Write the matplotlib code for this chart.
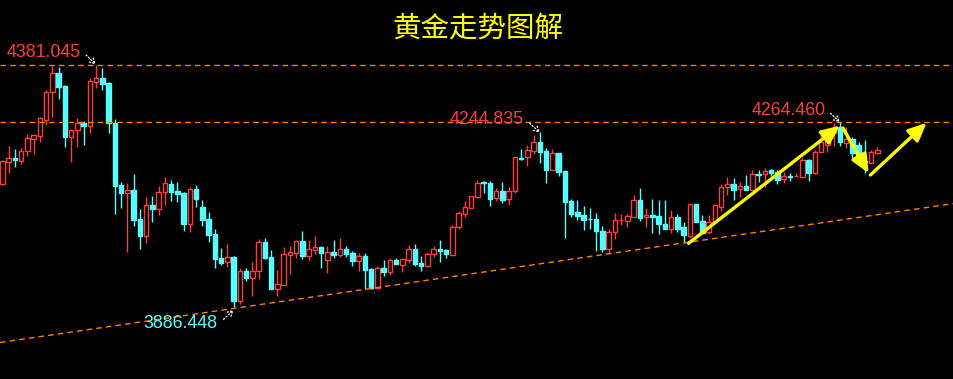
import matplotlib.pyplot as plt

plt.rcParams['font.family'] = ['Liberation Sans', 'Noto Sans CJK SC', 'DejaVu Sans']

# daily candles (price units)
opens = [4138.9, 4183.9, 4191.5, 4185.9, 4206.4, 4230.9, 4237.1, 4269.8, 4325.8, 4364.7,
         4338.7, 4235.0, 4248.7, 4263.7, 4257.5, 4347.5, 4354.5, 4344.9, 4262.4, 4136.2,
         4119.3, 4126.0, 4066.7, 4032.5, 4095.3, 4086.1, 4121.3, 4138.3, 4124.0, 4119.9,
         4057.1, 4128.1, 4091.2, 4066.7, 4036.0, 3986.9, 3979.4, 3989.0, 3899.6, 3960.3,
         3946.6, 3959.7, 4019.7, 3989.0, 3924.1, 3932.3, 3993.7, 3997.8, 4021.7, 3991.6,
         4003.9, 4010.0, 3983.5, 3999.2, 3993.7, 4005.3, 3997.2, 3980.2, 3991.0, 3964.4,
         3926.2, 3966.5, 3958.9, 3982.8, 3973.2, 3983.5, 4005.3, 3976.7, 3970.6, 3994.5,
         4005.3, 4003.3, 3993.7, 4049.3, 4077.5, 4089.8, 4111.1, 4141.8, 4140.3, 4109.0,
         4124.0, 4107.0, 4124.6, 4192.1, 4192.9, 4206.4, 4223.6, 4205.2, 4167.5, 4201.1,
         4164.9, 4103.5, 4080.4, 4074.9, 4067.3, 4066.7, 4042.2, 4005.3, 4039.5, 4064.0,
         4063.2, 4071.4, 4105.5, 4070.2, 4074.3, 4072.8, 4056.5, 4046.2, 4071.4, 4050.3,
         4032.5, 4096.8, 4062.6, 4039.5, 4059.9, 4091.9, 4131.5, 4138.3, 4127.4, 4134.2,
         4126.0, 4158.7, 4158.7, 4165.9, 4163.4, 4147.9, 4153.6, 4154.0, 4153.2, 4187.4,
         4160.2, 4204.4, 4218.1, 4242.0, 4255.5, 4222.8, 4229.7, 4218.1, 4184.3, 4181.9,
         4202.3]
highs = [4187.4, 4216.0, 4209.9, 4211.3, 4240.6, 4240.6, 4275.9, 4330.6, 4379.6, 4377.0,
         4341.4, 4250.2, 4272.7, 4267.1, 4354.5, 4381.045, 4375.6, 4346.9, 4270.6, 4141.8,
         4139.7, 4158.1, 4087.2, 4111.1, 4113.7, 4134.2, 4152.6, 4146.5, 4142.4, 4121.9,
         4131.5, 4136.2, 4105.5, 4081.0, 4046.2, 4007.4, 4015.6, 3991.6, 3965.9, 3966.5,
         3978.7, 4025.8, 4027.8, 4003.3, 3962.4, 4008.8, 4011.5, 4024.4, 4042.2, 4023.7,
         4031.9, 4011.5, 4010.9, 4023.7, 4027.8, 4011.5, 4001.2, 3996.5, 3997.2, 3966.5,
         3970.6, 3982.8, 3986.9, 3986.3, 3986.9, 4013.5, 4015.6, 3991.0, 3999.2, 4011.5,
         4023.7, 4005.3, 4054.4, 4083.1, 4103.1, 4113.7, 4146.5, 4145.0, 4145.0, 4130.1,
         4142.4, 4131.5, 4195.6, 4209.3, 4218.7, 4237.9, 4244.835, 4211.3, 4209.3, 4201.7,
         4166.9, 4107.6, 4105.5, 4093.3, 4089.2, 4078.4, 4052.4, 4046.2, 4078.4, 4077.5,
         4076.9, 4115.2, 4130.1, 4088.6, 4107.6, 4105.5, 4105.5, 4085.1, 4076.9, 4059.9,
         4097.4, 4097.4, 4074.9, 4074.9, 4095.3, 4138.3, 4153.2, 4149.9, 4143.0, 4156.7,
         4166.9, 4166.9, 4170.4, 4168.4, 4166.9, 4163.4, 4160.2, 4160.8, 4190.9, 4189.4,
         4207.8, 4242.0, 4252.2, 4262.4, 4264.460, 4255.5, 4233.8, 4224.8, 4228.3, 4207.8,
         4214.6]
lows = [4136.2, 4161.4, 4173.7, 4179.8, 4196.2, 4199.6, 4224.8, 4258.4, 4275.9, 4311.5,
        4214.6, 4183.9, 4214.6, 4218.1, 4243.2, 4335.3, 4330.6, 4243.2, 4076.9, 4089.8,
        3999.8, 4053.0, 4005.3, 4018.2, 4061.2, 4075.5, 4095.9, 4104.1, 4101.5, 4042.2,
        4040.7, 4091.9, 4052.4, 4019.7, 3966.5, 3972.6, 3969.1, 3886.448, 3892.8, 3940.5,
        3909.2, 3944.6, 3984.9, 3923.5, 3909.2, 3931.7, 3954.8, 3986.3, 3984.9, 3982.8,
        3995.1, 3967.1, 3956.9, 3987.5, 3989.6, 3989.6, 3971.2, 3961.0, 3924.1, 3924.1,
        3924.1, 3950.1, 3952.2, 3974.7, 3958.9, 3977.3, 3971.2, 3961.0, 3969.5, 3988.4,
        3979.4, 3987.5, 3993.1, 4045.6, 4070.8, 4089.2, 4110.5, 4120.5, 4093.9, 4102.9,
        4100.0, 4094.7, 4119.3, 4187.4, 4175.7, 4200.3, 4181.2, 4140.9, 4166.9, 4155.3,
        4028.4, 4071.4, 4064.7, 4044.2, 4046.2, 4001.9, 3999.8, 3996.5, 4025.2, 4053.4,
        4050.9, 4070.8, 4062.6, 4050.9, 4037.4, 4035.4, 4045.2, 4037.4, 4040.1, 4018.2,
        4027.2, 4059.9, 4036.0, 4036.0, 4059.3, 4083.7, 4115.8, 4105.5, 4112.3, 4125.4,
        4125.4, 4143.0, 4132.8, 4154.6, 4138.3, 4139.7, 4145.0, 4153.6, 4152.0, 4145.0,
        4159.6, 4203.7, 4203.1, 4216.0, 4216.0, 4211.3, 4190.9, 4177.1, 4160.2, 4181.2,
        4199.6]
closes = [4185.3, 4190.9, 4188.0, 4205.8, 4231.8, 4237.9, 4272.7, 4325.8, 4364.7, 4337.3,
          4235.0, 4248.1, 4262.4, 4257.5, 4348.3, 4354.5, 4342.8, 4262.4, 4134.8, 4120.5,
          4126.0, 4064.7, 4032.5, 4095.3, 4087.2, 4121.3, 4139.7, 4122.5, 4118.4, 4056.5,
          4127.4, 4107.6, 4064.7, 4034.0, 3984.9, 3976.7, 3988.4, 3899.0, 3959.7, 3946.0,
          3959.7, 4019.0, 3986.9, 3924.1, 3933.1, 3995.1, 3999.2, 4021.7, 3991.0, 4004.7,
          4008.8, 3997.8, 3998.6, 3993.7, 4004.7, 3995.7, 3981.4, 3990.4, 3962.4, 3926.2,
          3965.9, 3958.9, 3982.8, 3975.3, 3984.3, 4004.7, 3975.3, 3970.6, 3995.1, 4005.3,
          4001.2, 3995.7, 4050.3, 4079.0, 4090.8, 4113.1, 4139.7, 4140.3, 4108.2, 4124.0,
          4106.2, 4123.4, 4192.9, 4190.0, 4207.2, 4223.6, 4204.4, 4167.5, 4201.1, 4163.4,
          4102.1, 4077.5, 4073.4, 4065.3, 4066.1, 4041.5, 4005.3, 4039.5, 4064.7, 4065.3,
          4072.8, 4105.5, 4068.1, 4074.3, 4071.4, 4055.9, 4045.6, 4071.4, 4046.2, 4033.4,
          4096.8, 4060.6, 4037.4, 4059.9, 4094.7, 4131.5, 4138.3, 4126.0, 4134.2, 4126.0,
          4158.7, 4156.1, 4164.9, 4160.2, 4146.5, 4154.6, 4152.6, 4155.1, 4187.4, 4161.4,
          4203.1, 4224.8, 4242.0, 4252.2, 4223.6, 4229.7, 4201.1, 4181.9, 4183.3, 4203.1,
          4207.8]

# marked levels
level_high = 4381.045
level_mid = 4264.460
level_swing = 4244.835
level_low = 3886.448

# rising support line (bar index, price)
support_x = [-0.37, 152.3]
support_y = [3814.1, 4098.4]

red = '#ff3c3c'
cyan = '#55ffff'
orange = '#ff8000'
yellow = '#ffff00'

fig = plt.figure(figsize=(9.54, 3.79), dpi=100, facecolor='black')
ax = fig.add_axes([0, 0, 1, 1])
ax.set_facecolor('black')
ax.set_xlim(-0.37, 152.27)
ax.set_ylim(3739.4, 4514.6)
ax.axis('off')

for i in range(len(opens)):
    o, h, l, c = opens[i], highs[i], lows[i], closes[i]
    up = c >= o
    col = red if up else cyan
    ax.vlines(i, l, h, color=col, lw=1, zorder=1)
    body = max(abs(c - o), 1.0)
    ax.bar(i, body, 0.72, min(o, c), facecolor='black' if up else cyan,
           edgecolor=col, lw=1, zorder=2)

dash = (0, (4, 3))
ax.axhline(level_high, color=orange, lw=1, ls=dash, zorder=3)
ax.axhline(level_mid, color=orange, lw=1, ls=dash, zorder=3)
ax.plot(support_x, support_y, color=orange, lw=1, ls=dash, zorder=3)

# price labels with small dotted pointers
labels = [
    ('4381.045', red, (0.75, 4408.2), (13.4, 4402.1), (14.95, 4383.0)),
    ('4244.835', red, (71.6, 4269.5), (84.4, 4262.4), (86.0, 4243.5)),
    ('4264.460', red, (119.9, 4287.6), (132.5, 4282.8), (134.0, 4265.0)),
    ('3886.448', cyan, (22.6, 3851.9), (35.4, 3861.5), (37.0, 3880.5)),
]
for txt, col, pos, start, end in labels:
    ax.text(pos[0], pos[1], txt, color=col, fontsize=12.8, ha='left', va='center',
            family=['Liberation Sans', 'DejaVu Sans'])
    ax.annotate('', xy=end, xytext=start,
                arrowprops=dict(arrowstyle='->,head_length=0.35,head_width=0.2',
                                color='white', lw=0.9, ls=':',
                                shrinkA=0, shrinkB=0))

# yellow trend arrows
moves = [((109.8, 4016.9), (134.0, 4257.5)),
         ((134.5, 4252.8), (138.6, 4160.5)),
         ((138.9, 4156.7), (147.9, 4263.6))]
for start, end in moves:
    ax.annotate('', xy=end, xytext=start,
                arrowprops=dict(arrowstyle='-|>,head_length=1.0,head_width=0.45',
                                color=yellow, lw=2.4, mutation_scale=11,
                                shrinkA=0, shrinkB=0), zorder=5)

fig.text(0.5005, 0.925, '黄金走势图解', color=yellow, fontsize=20.5, ha='center', va='center',
         family=['Noto Sans CJK SC', 'DejaVu Sans'])

fig.savefig('out.png', dpi=100, facecolor='black')
